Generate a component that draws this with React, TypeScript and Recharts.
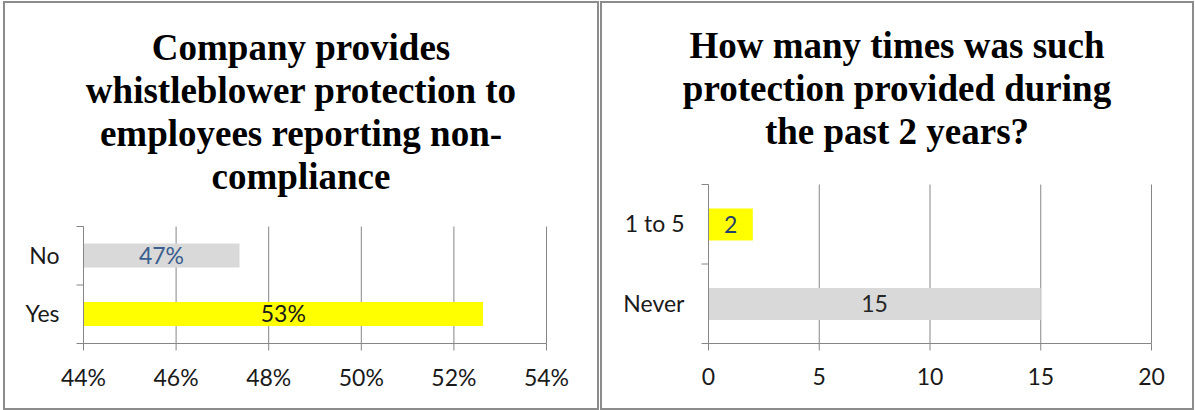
import { BarChart, Bar, XAxis, YAxis, CartesianGrid, LabelList, Cell } from 'recharts';

// Left panel: share of respondents whose company offers whistleblower protection
const protectionTitle = ['Company provides', 'whistleblower protection to', 'employees reporting non-', 'compliance'];
const protectionCategories = ['No', 'Yes'];
const protectionShares = [47.37, 52.63];
const protectionFills = ['#D9D9D9', '#FFFF00'];
const protectionLabelColors = ['#3A5E8E', '#1A1A1A'];
const protectionTicks = [44, 46, 48, 50, 52, 54];

// Right panel: how often protection was provided in the past 2 years
const timesTitle = ['How many times was such', 'protection provided during', 'the past 2 years?'];
const timesCategories = ['1 to 5', 'Never'];
const timesCounts = [2, 15];
const timesFills = ['#FFFF00', '#D9D9D9'];
const timesLabelColors = ['#243F6E', '#262626'];
const timesTicks = [0, 5, 10, 15, 20];

const AXIS = '#868686';
const FONT = 'Lato, "Open Sans", sans-serif';
const TEXT_SIZE = 23;

const protectionData = protectionCategories.map((name, i) => ({ name, value: protectionShares[i] }));
const timesData = timesCategories.map((name, i) => ({ name, value: timesCounts[i] }));

function CategoryTick(props: any) {
  const { x, y, payload, index, half } = props;
  return (
    <g>
      {index === 0 && <line x1={x - 7} x2={x} y1={y - half} y2={y - half} stroke={AXIS} />}
      <line x1={x - 7} x2={x} y1={y + half} y2={y + half} stroke={AXIS} />
      <text x={x - 24} y={y} dy={8} textAnchor="end" fill="#1A1A1A" fontFamily={FONT} fontSize={TEXT_SIZE}>
        {payload.value}
      </text>
    </g>
  );
}

const barLabel = (colors: string[], fmt: (v: number) => string) => (props: any) => {
  const { x, y, width, height, value, index } = props;
  return (
    <text
      x={x + width / 2}
      y={y + height / 2}
      dy={8}
      textAnchor="middle"
      fill={colors[index]}
      fontFamily={FONT}
      fontSize={TEXT_SIZE}
    >
      {fmt(value)}
    </text>
  );
};

function Title({ lines, left, width, top }: { lines: string[]; left: number; width: number; top: number }) {
  return (
    <div
      style={{
        position: 'absolute',
        left,
        top,
        width,
        textAlign: 'center',
        fontFamily: '"Liberation Serif", "Times New Roman", serif',
        fontWeight: 'bold',
        fontSize: 37,
        lineHeight: '43px',
        color: '#000',
        whiteSpace: 'nowrap',
      }}
    >
      {lines.map((l) => (
        <div key={l}>{l}</div>
      ))}
    </div>
  );
}

const panelStyle = (left: number, width: number): React.CSSProperties => ({
  position: 'absolute',
  left,
  top: 1,
  width,
  height: 409,
  border: `2px solid #8C8C8C`,
  boxSizing: 'border-box',
  background: '#fff',
});

export default function App() {
  // half a category band, used to put the category axis ticks between the bars
  const leftBand = 117 / protectionCategories.length / 2;
  const rightBand = 159 / timesCategories.length / 2;

  return (
    <div style={{ position: 'absolute', left: 0, top: 0, width: 1195, height: 410, background: '#fff', overflow: 'hidden' }}>
      <div style={panelStyle(3, 596)} />
      <div style={panelStyle(600, 594)} />

      <Title lines={protectionTitle} left={3} width={596} top={26} />
      <Title lines={timesTitle} left={600} width={594} top={24} />

      <div style={{ position: 'absolute', left: 0, top: 200 }}>
        <BarChart
          width={597}
          height={210}
          data={protectionData}
          layout="vertical"
          margin={{ top: 26.5, right: 50.5, bottom: 0, left: 0 }}
        >
          <CartesianGrid horizontal={false} stroke={AXIS} />
          <XAxis
            type="number"
            domain={[44, 54]}
            ticks={protectionTicks}
            interval={0}
            tickFormatter={(v) => `${v}%`}
            height={66.5}
            stroke={AXIS}
            tickSize={7}
            tickMargin={19}
            tick={{ fill: '#1A1A1A', fontFamily: FONT, fontSize: TEXT_SIZE }}
          />
          <YAxis
            type="category"
            dataKey="name"
            width={83.5}
            stroke={AXIS}
            tickLine={false}
            tickSize={0}
            tickMargin={0}
            tick={(p: any) => <CategoryTick {...p} half={leftBand} />}
          />
          <Bar dataKey="value" barSize={24} isAnimationActive={false}>
            {protectionData.map((d, i) => (
              <Cell key={d.name} fill={protectionFills[i]} />
            ))}
            <LabelList dataKey="value" content={barLabel(protectionLabelColors, (v) => `${Math.round(v)}%`)} />
          </Bar>
        </BarChart>
      </div>

      <div style={{ position: 'absolute', left: 600, top: 170 }}>
        <BarChart
          width={595}
          height={240}
          data={timesData}
          layout="vertical"
          margin={{ top: 14.5, right: 43.5, bottom: 0, left: 0 }}
        >
          <CartesianGrid horizontal={false} stroke={AXIS} />
          <XAxis
            type="number"
            domain={[0, 20]}
            ticks={timesTicks}
            interval={0}
            height={66.5}
            stroke={AXIS}
            tickSize={7}
            tickMargin={18}
            tick={{ fill: '#1A1A1A', fontFamily: FONT, fontSize: TEXT_SIZE }}
          />
          <YAxis
            type="category"
            dataKey="name"
            width={108.5}
            stroke={AXIS}
            tickLine={false}
            tickSize={0}
            tickMargin={0}
            tick={(p: any) => <CategoryTick {...p} half={rightBand} />}
          />
          <Bar dataKey="value" barSize={32} isAnimationActive={false}>
            {timesData.map((d, i) => (
              <Cell key={d.name} fill={timesFills[i]} />
            ))}
            <LabelList dataKey="value" content={barLabel(timesLabelColors, (v) => `${v}`)} />
          </Bar>
        </BarChart>
      </div>
    </div>
  );
}
